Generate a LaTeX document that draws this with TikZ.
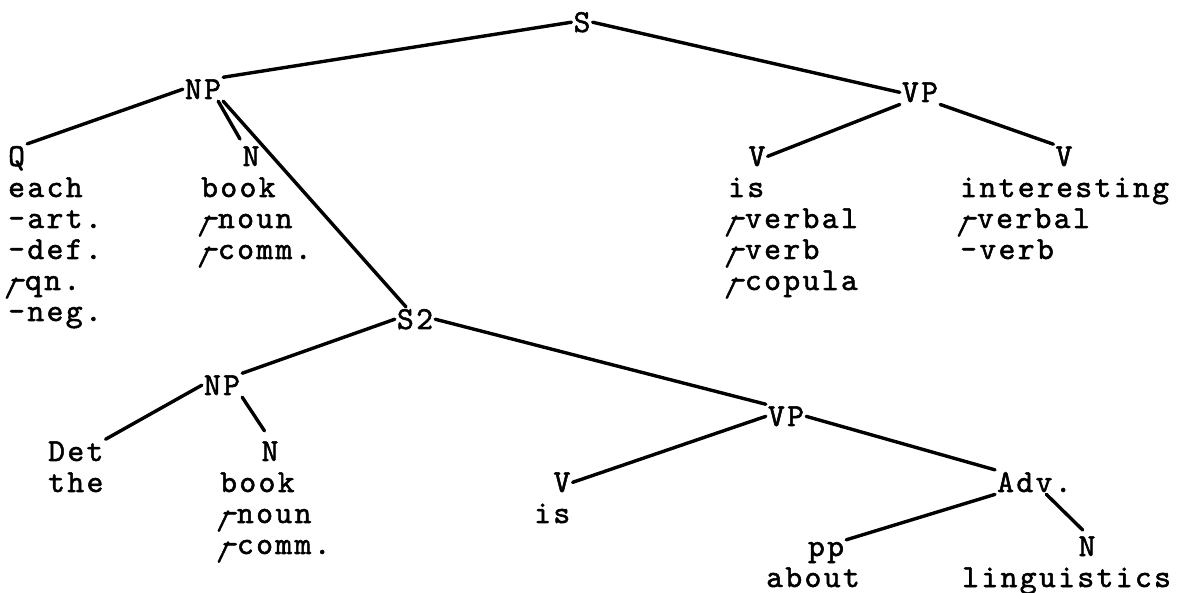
\documentclass[tikz,border=0pt]{standalone}
\usepackage{fontspec}
\newfontfamily\tw{lmmono10-regular.otf}[FakeBold=1.6, LetterSpace=7.5]
\newcommand\plusov{\rlap{\hspace{0.05em}-}\rlap{\hspace{-0.12em}\raisebox{-0.2em}{\smash{\scalebox{0.85}{/}}}}\hphantom{-}}
\tikzset{
  lab/.style={font=\tw\fontsize{32}{31}\selectfont, anchor=base, inner sep=2pt},
  labw/.style={font=\tw\fontsize{32}{31}\selectfont, anchor=base west, inner sep=2pt},
  txt/.style={font=\tw\fontsize{32}{31}\selectfont, anchor=base west, inner sep=0pt},
  branch/.style={line width=3.4pt, line cap=round}
}
\begin{document}
\begin{tikzpicture}[x=1pt,y=-1pt]
\useasboundingbox (0,0) rectangle (1187,593);
% labels
\node[lab] (S) at (582,32) {S};
\node[lab] (NP1) at (203,99) {NP};
\node[lab] (VP1) at (920,102) {VP};
\node[labw] (Q) at (6,166) {Q};
\node[lab] (N1) at (251,166) {N};
\node[lab] (Vl) at (757,166) {V};
\node[lab] (Vr) at (1064,166) {V};
\node[lab] (S2) at (415,329) {S2};
\node[lab] (NP2) at (222,395) {NP};
\node[labw] (Det) at (46,461) {Det};
\node[lab] (N2) at (270,461) {N};
\node[lab] (VP2) at (786,426) {VP};
\node[lab] (V2) at (562,492) {V};
\node[labw] (Adv) at (995,492) {Adv.};
\node[lab] (pp) at (826,556) {pp};
\node[lab] (N3) at (1087,556) {N};
% feature columns
\foreach \t [count=\i] in {each,-art.,-def.,\plusov qn.,-neg.}
  \node[txt] (q\i) at (8,{197+31*(\i-1)}) {\t};
\foreach \t [count=\i] in {book,\plusov noun,\plusov comm.}
  \node[txt] (b\i) at (201,{197+31*(\i-1)}) {\t};
\foreach \t [count=\i] in {is,\plusov verbal,\plusov verb,\plusov copula}
  \node[txt] (v\i) at (728,{197+31*(\i-1)}) {\t};
\foreach \t [count=\i] in {interesting,\plusov verbal,-verb}
  \node[txt] (w\i) at (960,{197+31*(\i-1)}) {\t};
\node[txt] (the) at (48,492) {the};
\foreach \t [count=\i] in {book,\plusov noun,\plusov comm.}
  \node[txt] (c\i) at (220,{492+31*(\i-1)}) {\t};
\node[txt] (is2) at (534,523) {is};
\node[txt] (about) at (766,587) {about};
\node[txt] (ling) at (962,587) {linguistics};
% branches
\draw[branch] (S.west) -- (NP1.north east);
\draw[branch] (S.east) -- (VP1.west);
\draw[branch] (NP1.west) -- (Q.north east);
\draw[branch, shorten >=6pt] ([xshift=-5pt]NP1.south east) -- ([xshift=-8pt]N1.north);
\draw[branch] (NP1.south east) -- ([xshift=-9pt]S2.north);
\draw[branch] (VP1.south west) -- (Vl.east);
\draw[branch] (VP1.south east) -- (Vr.north west);
\draw[branch] (S2.west) -- (NP2.north east);
\draw[branch] (S2.east) -- (VP2.north west);
\draw[branch] (NP2.west) -- (Det.north east);
\draw[branch, shorten >=10pt] (NP2.south east) -- (N2.north);
\draw[branch] (VP2.west) -- (V2.east);
\draw[branch] (VP2.east) -- (Adv.north west);
\draw[branch] (Adv.south west) -- (pp.north east);
\draw[branch, shorten >=6pt] ([xshift=12pt]Adv.south) -- (N3.north);
\end{tikzpicture}
\end{document}
